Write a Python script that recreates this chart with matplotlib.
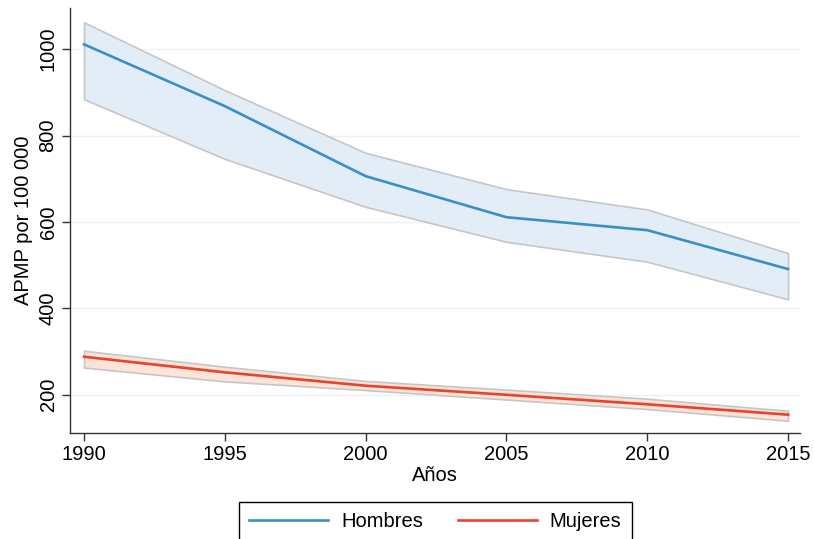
import matplotlib

matplotlib.use("Agg")

import matplotlib.pyplot as plt

plt.rcParams["font.family"] = ["Liberation Sans", "DejaVu Sans"]

years = [1990, 1995, 2000, 2005, 2010, 2015]

hombres = [1011, 868, 706, 611, 581, 491]
hombres_lo = [884, 746, 635, 554, 508, 421]
hombres_hi = [1062, 905, 760, 676, 629, 528]

mujeres = [288, 252, 221, 200, 178, 154]
mujeres_lo = [263, 231, 211, 189, 167, 140]
mujeres_hi = [302, 265, 232, 212, 191, 163]

yticks = [200, 400, 600, 800, 1000]

BLUE = "#3a8fc6"
BLUE_FILL = "#e3edf7"
RED = "#e8432d"
RED_FILL = "#fde3d8"
BAND_EDGE = "#c6c6c6"
GRID = "#eaf2f2"
FS = 14.5

fig = plt.figure(figsize=(8.14, 5.39), dpi=100)
ax = fig.add_axes([0.086, 0.197, 0.897, 0.788])

for lo, hi, fill in [(hombres_lo, hombres_hi, BLUE_FILL), (mujeres_lo, mujeres_hi, RED_FILL)]:
    ax.fill_between(years, lo, hi, facecolor=fill, edgecolor=BAND_EDGE, linewidth=1.2, zorder=2)

ax.plot(years, hombres, color=BLUE, linewidth=1.9, label="Hombres", zorder=3)
ax.plot(years, mujeres, color=RED, linewidth=1.9, label="Mujeres", zorder=3)

ax.set_xlim(1989.5, 2015.43)
ax.set_ylim(112, 1095)
ax.set_xticks(years)
ax.set_yticks(yticks)
ax.set_yticklabels([str(v) for v in yticks], rotation=90, va="center")
ax.tick_params(axis="both", labelsize=FS, length=6, width=1.0, color="#333333", pad=3)
ax.grid(axis="y", color=GRID, linewidth=1.0, zorder=0)
ax.set_axisbelow(True)

for side in ("top", "right"):
    ax.spines[side].set_visible(False)
for side in ("left", "bottom"):
    ax.spines[side].set_color("#333333")
    ax.spines[side].set_linewidth(1.0)

ax.set_xlabel("Años", fontsize=FS, labelpad=1)
ax.set_ylabel("APMP por 100 000", fontsize=FS, labelpad=4)

# legend box sits at the bottom edge, partly clipped by the canvas
fig.legend(
    loc="upper center",
    bbox_to_anchor=(0.535, 0.068),
    ncol=2,
    fontsize=FS,
    frameon=True,
    fancybox=False,
    edgecolor="black",
    framealpha=1.0,
    handlelength=3.9,
    handletextpad=0.65,
    columnspacing=1.75,
    borderpad=0.5,
    borderaxespad=0.0,
)

fig.savefig("out.png", dpi=100)
